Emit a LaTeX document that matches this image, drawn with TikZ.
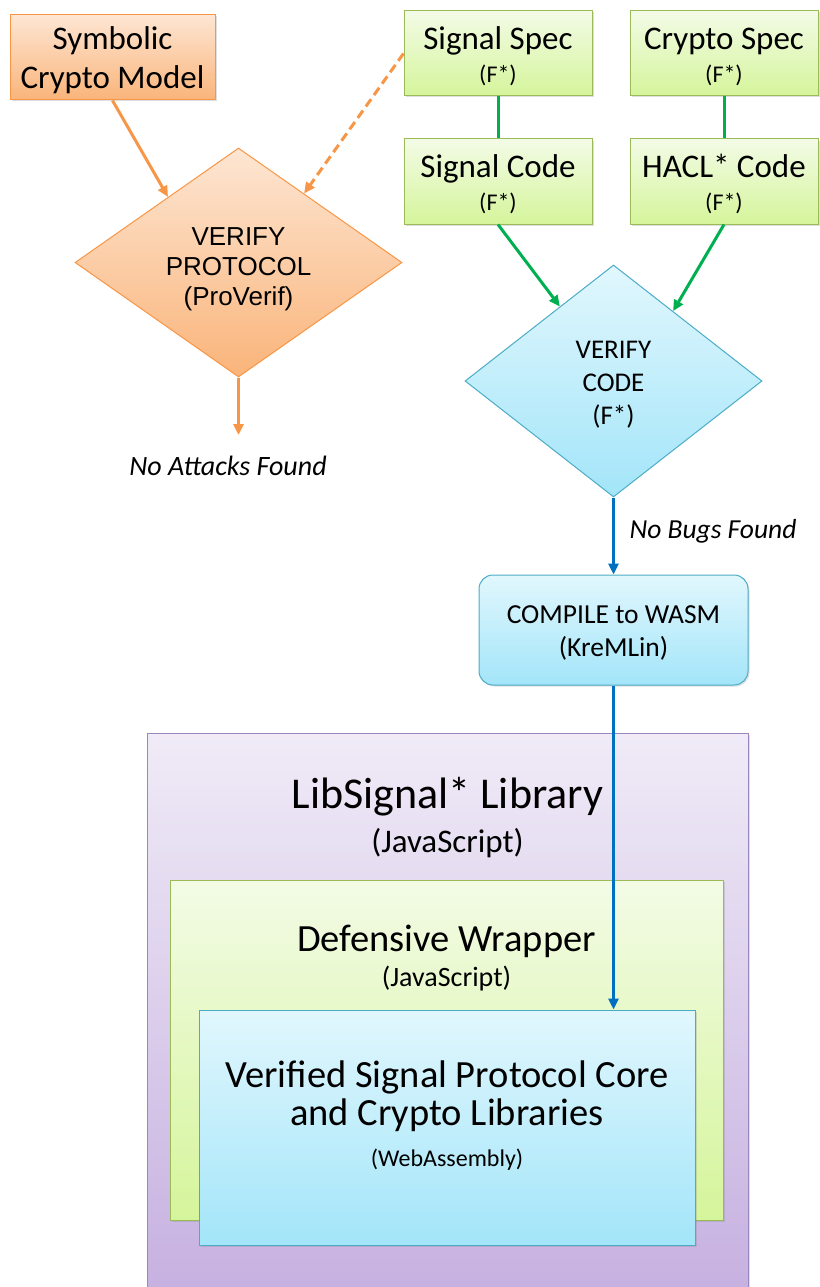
\documentclass[tikz,border=0pt]{standalone}
\usepackage{fontspec}
\setmainfont{Carlito}
\newfontfamily\arialfont{Liberation Sans}
\usetikzlibrary{shapes.geometric,arrows.meta,shadows,calc}

\definecolor{ortop}{HTML}{FDE6D3}
\definecolor{orbot}{HTML}{FAB47A}
\definecolor{orline}{HTML}{F79646}
\definecolor{grtop}{HTML}{F3FBE6}
\definecolor{grbot}{HTML}{D5F59B}
\definecolor{grline}{HTML}{9BBB59}
\definecolor{grarrow}{HTML}{00B050}
\definecolor{bltop}{HTML}{E1F7FD}
\definecolor{blbot}{HTML}{A3E5F9}
\definecolor{blline}{HTML}{4BACC6}
\definecolor{blarrow}{HTML}{0070C0}
\definecolor{putop}{HTML}{F0EBF7}
\definecolor{pubot}{HTML}{C6B0E0}
\definecolor{puline}{HTML}{9C86BE}

\tikzset{
  box/.style={draw, line width=1pt, inner sep=0pt, align=center,
    drop shadow={shadow xshift=1.5pt, shadow yshift=-1.5pt, opacity=0.25}},
  orangebox/.style={box, draw=orline, top color=ortop, bottom color=orbot},
  greenbox/.style={box, draw=grline, top color=grtop, bottom color=grbot,
    minimum width=188pt, minimum height=85pt, text height=60.5pt,
    font=\fontsize{33}{33}\selectfont},
  bluebox/.style={box, draw=blline, top color=bltop, bottom color=blbot},
  purplebox/.style={box, draw=puline, top color=putop, bottom color=pubot},
  flow/.style={line width=3pt, -{Triangle[length=11pt,width=10pt]}},
}

% spec / code boxes, all in F*
\newcommand{\fstarbox}[4]{%
  \node[greenbox] (#1) at (#2,#3) {#4\\{\fontsize{24}{33}\selectfont (F*)}};
}

\begin{document}
\begin{tikzpicture}[x=1pt, y=-1pt]
  \useasboundingbox (0,0) rectangle (819,1287);

  %%%%%%%%%%%%%%%%%%%%%%%%%%%%%%%%%%%%%%%%%%%%%%%%%%%%%%%%%%%%%%%%%%%%%
  % protocol side (ProVerif)
  \node[orangebox, minimum width=205pt, minimum height=85pt, text height=68pt,
        font=\fontsize{33}{39}\selectfont] (symb) at (112.5,57.5)
        {Symbolic\\Crypto Model};

  \node[diamond, aspect=1.6, draw=orline, line width=1pt, top color=ortop, bottom color=orbot,
        minimum width=327pt, minimum height=229pt, inner sep=0pt, align=center,
        text height=90.5pt, font=\arialfont\fontsize{26}{30}\selectfont] (dproto) at (238.5,262.5)
        {VERIFY\\PROTOCOL\\(ProVerif)};

  \coordinate (attackend) at (238.5,435);
  \node[font=\itshape\fontsize{28}{30}\selectfont] (noattack) at (228,466)
        {No Attacks Found};

  %%%%%%%%%%%%%%%%%%%%%%%%%%%%%%%%%%%%%%%%%%%%%%%%%%%%%%%%%%%%%%%%%%%%%
  % specs and code
  \fstarbox{sigspec}{498}{53.5}{Signal Spec}
  \fstarbox{cryspec}{724}{53.5}{Crypto Spec}
  \fstarbox{sigcode}{498}{181.5}{Signal Code}
  \fstarbox{haclcode}{724}{181.5}{HACL* Code}

  %%%%%%%%%%%%%%%%%%%%%%%%%%%%%%%%%%%%%%%%%%%%%%%%%%%%%%%%%%%%%%%%%%%%%
  % code side (F*, KreMLin)
  \node[diamond, draw=blline, line width=1pt, top color=bltop, bottom color=blbot,
        minimum width=297pt, minimum height=232pt, inner sep=0pt, align=center,
        text height=91.5pt, font=\fontsize{27}{33}\selectfont] (dcode) at (613.5,381)
        {VERIFY\\CODE\\(F*)};

  \node[font=\itshape\fontsize{27.5}{30}\selectfont, anchor=west] (nobugs) at (626,531)
        {No Bugs Found};

  \node[bluebox, rounded corners=14pt, minimum width=269pt, minimum height=110pt,
        text height=57pt, font=\fontsize{27.5}{33}\selectfont] (comp) at (613.5,630)
        {COMPILE to WASM\\(KreMLin)};

  %%%%%%%%%%%%%%%%%%%%%%%%%%%%%%%%%%%%%%%%%%%%%%%%%%%%%%%%%%%%%%%%%%%%%
  % library stack
  \node[purplebox, minimum width=601pt, minimum height=562pt] (lib) at (447.5,1014) {};
  \node[font=\fontsize{44}{46}\selectfont] (libtitle) at (447.5,797) {LibSignal* Library};
  \node[font=\fontsize{33}{34}\selectfont] (libjs) at (447.5,843) {(JavaScript)};

  \node[box, draw=grline, top color=grtop, bottom color=grbot,
        minimum width=553pt, minimum height=340pt] (wrap) at (446.5,1050) {};
  \node[font=\fontsize{38.5}{40}\selectfont] (wraptitle) at (446.5,941) {Defensive Wrapper};
  \node[font=\fontsize{28}{30}\selectfont] (wrapjs) at (446.5,979) {(JavaScript)};

  \node[bluebox, minimum width=496pt, minimum height=235pt] (core) at (447,1127.5) {};
  \node[font=\fontsize{38.5}{38}\selectfont, align=center] (coretitle) at (447,1096)
        {Verified Signal Protocol Core\\and Crypto Libraries};
  \node[font=\fontsize{24}{28}\selectfont] (coreasm) at (447,1159.5) {(WebAssembly)};

  %%%%%%%%%%%%%%%%%%%%%%%%%%%%%%%%%%%%%%%%%%%%%%%%%%%%%%%%%%%%%%%%%%%%%
  % connectors
  \draw[flow, orline] (symb.south) -- ($(dproto.west)!0.57!(dproto.north)$);
  \draw[flow, orline, dash pattern=on 9pt off 5pt] (sigspec.west) -- ($(dproto.north)!0.40!(dproto.east)$);
  \draw[flow, orline] (dproto.south) -- (attackend);

  \draw[line width=3pt, grarrow] (sigspec) -- (sigcode);
  \draw[line width=3pt, grarrow] (cryspec) -- (haclcode);
  \draw[flow, grarrow] (sigcode.south) -- ($(dcode.west)!0.64!(dcode.north)$);
  \draw[flow, grarrow] (haclcode.south) -- ($(dcode.north)!0.40!(dcode.east)$);

  \draw[flow, blarrow] (dcode.south) -- (comp.north);
  \draw[flow, blarrow] (comp.south) -- (comp.south |- core.north);

\end{tikzpicture}
\end{document}
